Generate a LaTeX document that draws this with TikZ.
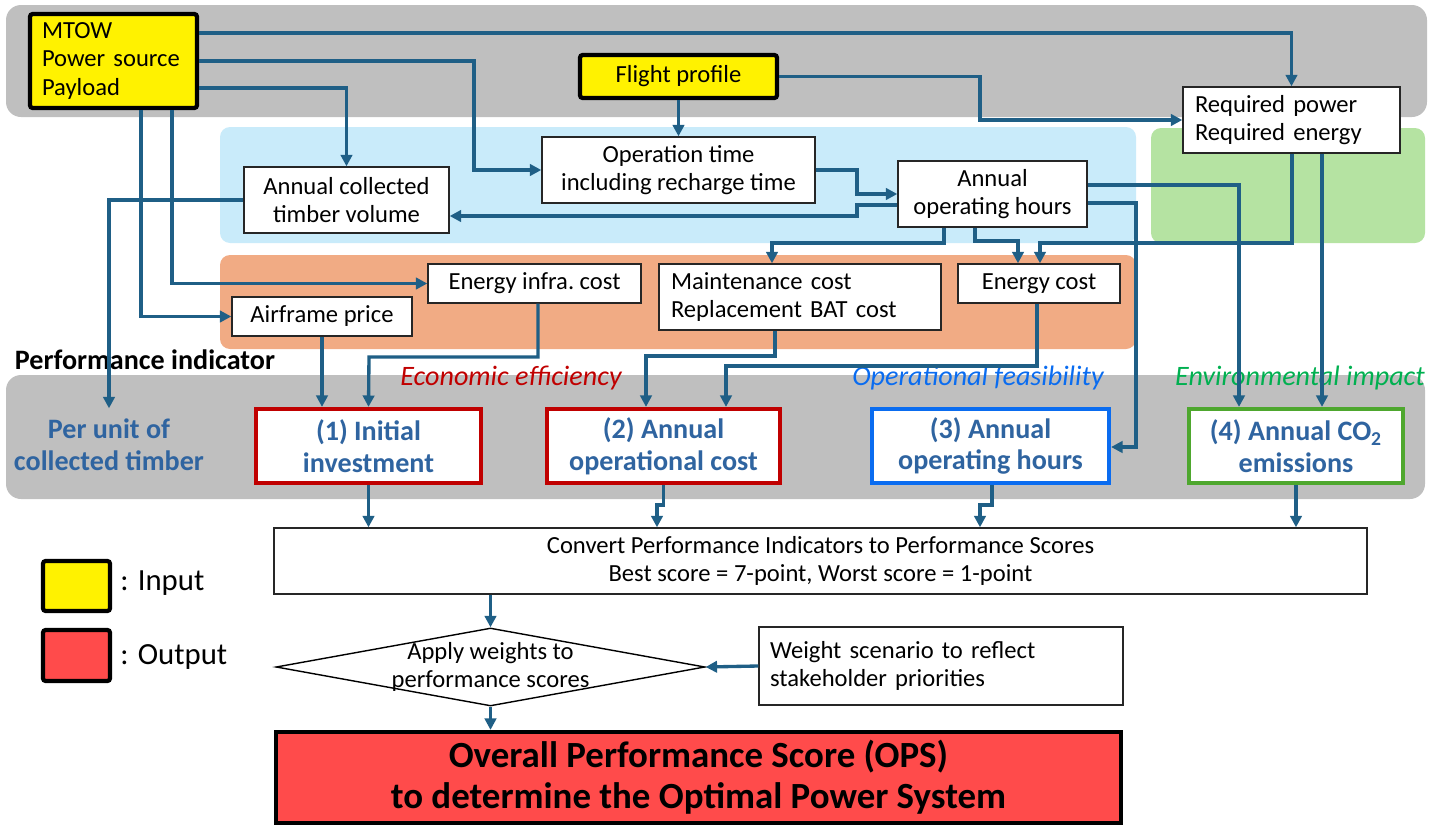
\documentclass[tikz,border=0pt]{standalone}
\usepackage{fontspec}
\setmainfont{Carlito}
\usepackage{tikz}
\usetikzlibrary{arrows.meta,shapes.geometric}
\definecolor{cband}{HTML}{BFBFBF}
\definecolor{cblue}{HTML}{C9EBFA}
\definecolor{cgreen}{HTML}{B5E3A2}
\definecolor{corange}{HTML}{F1AB84}
\definecolor{clink}{HTML}{1F5F86}
\definecolor{cred}{HTML}{C00000}
\definecolor{cops}{HTML}{FF4B4B}
\definecolor{cfeas}{HTML}{0A6CF0}
\definecolor{cenv}{HTML}{00B050}
\definecolor{cgood}{HTML}{4EA72E}
\definecolor{cind}{HTML}{2F64A0}

\begin{document}
\begin{tikzpicture}[x=0.02cm,y=-0.02cm,>={Triangle[length=6.5pt,width=6.5pt]},
  box/.style={draw=black!85,fill=white,line width=0.8pt,inner sep=0pt,align=center,font=\fontsize{14}{16}\selectfont},
  inbox/.style={box,fill=yellow,draw=black,line width=2.4pt,rounded corners=1.5pt},
  indbox/.style={draw=#1,fill=white,line width=2.4pt,minimum height=1.48cm,inner sep=0pt,align=center,text=cind,font=\fontsize{16}{18}\selectfont\bfseries},
  cat/.style={font=\fontsize{16}{18}\selectfont\itshape},
  link/.style={->,clink,line width=1.9pt}]
  \useasboundingbox (0,0) rectangle (1445,825);
  \foreach \c/\a/\b/\r in {cband/{6,5}/{1427,117}/0.3cm, cblue/{220,127}/{1136,243}/0.2cm, cgreen/{1151,128}/{1425,243}/0.2cm, corange/{220,255}/{1136,349}/0.2cm, cband/{6,375}/{1425,499}/0.3cm}
    \fill[\c,rounded corners=\r] (\a) rectangle (\b);

  \node[inbox,align=left,text width=2.86cm,inner xsep=0.24cm,minimum height=1.88cm] (inp) at (113.5,61) {MTOW\\Power source\\Payload};
  \node[inbox,minimum width=3.94cm,minimum height=0.86cm] (fp) at (678.5,76.5) {Flight profile};
  \node[box,align=left,text width=3.86cm,inner xsep=0.24cm,minimum height=1.32cm] (req) at (1291.5,120) {Required power\\Required energy};
  \node[box,minimum width=4.1cm,minimum height=1.32cm] (vol) at (346.5,200) {Annual collected\\timber volume};
  \node[box,minimum width=5.46cm,minimum height=1.32cm] (optime) at (678.5,170) {Operation time\\including recharge time};
  \node[box,minimum width=3.78cm,minimum height=1.32cm] (hrs) at (992.5,194) {Annual\\operating hours};
  \node[box,minimum width=4.26cm,minimum height=0.78cm] (infra) at (534.5,283.5) {Energy infra.\ cost};
  \node[box,minimum width=3.6cm,minimum height=0.78cm] (air) at (322,316.5) {Airframe price};
  \node[box,align=left,text width=5.16cm,inner xsep=0.24cm,minimum height=1.32cm] (maint) at (800,297) {Maintenance cost\\Replacement BAT cost};
  \node[box,minimum width=3.24cm,minimum height=0.78cm] (ecost) at (1039,283.5) {Energy cost};

  \node[font=\fontsize{16}{18}\selectfont\bfseries] (pilab) at (145,360) {Performance indicator};
  \node[font=\fontsize{16}{18}\selectfont\bfseries,text=cind,align=center,inner ysep=6pt] (unit) at (109,445) {Per unit of\\collected timber};
  \node[cat,text=cred] (econ) at (511,378) {Economic efficiency};
  \node[cat,text=cfeas] (feas) at (978,378) {Operational feasibility};
  \node[cat,text=cenv] (env) at (1300,378) {Environmental impact};

  \node[indbox=cred,minimum width=4.5cm] (ind1) at (368.5,446) {(1) Initial\\investment};
  \node[indbox=cred,minimum width=4.66cm] (ind2) at (663.5,446) {(2) Annual\\operational cost};
  \node[indbox=cfeas,minimum width=4.74cm] (ind3) at (990.5,446) {(3) Annual\\operating hours};
  \node[indbox=cgood,minimum width=4.28cm] (ind4) at (1296,446) {(4) Annual CO\textsubscript{2}\\emissions};

  \node[box,minimum width=21.86cm,minimum height=1.32cm] (conv) at (820.5,561) {Convert Performance Indicators to Performance Scores\\Best score = 7-point, Worst score = 1-point};
  \node[diamond,draw=black,line width=0.8pt,fill=white,inner sep=0pt,minimum width=8.58cm,minimum height=1.56cm,
    label={[align=center,font=\fontsize{14}{15.5}\selectfont]center:{Apply weights to\\performance scores}}] (wgt) at (490.5,667) {};
  \node[box,align=left,text width=6.84cm,inner xsep=0.22cm,minimum height=1.56cm] (wts) at (941,666) {Weight scenario to reflect\\stakeholder priorities};
  \node[draw=black,fill=cops,line width=2.4pt,minimum width=16.9cm,minimum height=1.82cm,align=center,font=\fontsize{21}{23.5}\selectfont\bfseries] (ops) at (698.5,777.5) {Overall Performance Score (OPS)\\to determine the Optimal Power System};

  \node[draw=black,fill=yellow,line width=2.4pt,rounded corners=1.5pt,minimum width=1.34cm,minimum height=1cm] (legin) at (76.5,586) {};
  \node[draw=black,fill=cops,line width=2.4pt,rounded corners=1.5pt,minimum width=1.34cm,minimum height=1.02cm] (legout) at (76.5,655.5) {};
  \node[anchor=west,inner sep=0pt,font=\fontsize{17.5}{20}\selectfont] (legintxt) at (120,583) {: Input};
  \node[anchor=west,inner sep=0pt,font=\fontsize{17.5}{20}\selectfont] (legouttxt) at (120,657) {: Output};

  \draw[link] (inp.east |- 0,33) -| (req.north);
  \draw[link] (inp.east) -| (474,170) -- (optime.west);
  \draw[link] (inp.east |- 0,88) -| (vol.north);
  \draw[link] (inp.south -| 141,0) |- (air.west);
  \draw[link] (inp.south -| 172,0) |- (infra.west);
  \draw[link] (vol.west) -| (unit.north);
  \draw[link] (fp.south) -- (optime.north);
  \draw[link] (fp.east) -| (980,120) -- (req.west);
  \draw[link] (optime.east) -| (857,194) -- (hrs.west);
  \draw[link] (hrs.west |- 0,205) -| (857,216) -- (vol.east |- 0,216);
  \draw[link] (hrs.south -| 944,0) |- (772,243) -- (maint.north -| 772,0);
  \draw[link] (hrs.south -| 975,0) |- (1018,241) -- (ecost.north -| 1018,0);
  \draw[link] (hrs.east |- 0,185) -| (ind4.north -| 1239,0);
  \draw[link] (hrs.east |- 0,203) -| (1136,447) -- (ind3.east |- 0,447);
  \draw[link] (req.south -| 1292,0) |- (1040,243) -- (ecost.north -| 1040,0);
  \draw[link] (req.south -| 1322,0) -- (ind4.north -| 1322,0);
  \draw[link] (infra.south -| 538,0) |- (369,357) -- (ind1.north);
  \draw[link] (air.south) -- (air.south |- ind1.north);
  \draw[link] (maint.south -| 775,0) |- (646,356) -- (ind2.north -| 646,0);
  \draw[link] (ecost.south -| 1037,0) |- (726,366) -- (ind2.north -| 726,0);
  \draw[link] (ind1.south) -- (ind1.south |- conv.north);
  \draw[link] (ind2.south) -- (663.5,505) -| (conv.north -| 657,0);
  \draw[link] (ind3.south -| 992,0) -- (992,505) -| (conv.north -| 980,0);
  \draw[link] (ind4.south) -- (ind4.south |- conv.north);
  \draw[link] (conv.south -| wgt.north) -- (wgt.north);
  \draw[link] (wts.west) -- (wgt.east);
  \draw[link] (wgt.south) -- (wgt.south |- ops.north);
\end{tikzpicture}
\end{document}
